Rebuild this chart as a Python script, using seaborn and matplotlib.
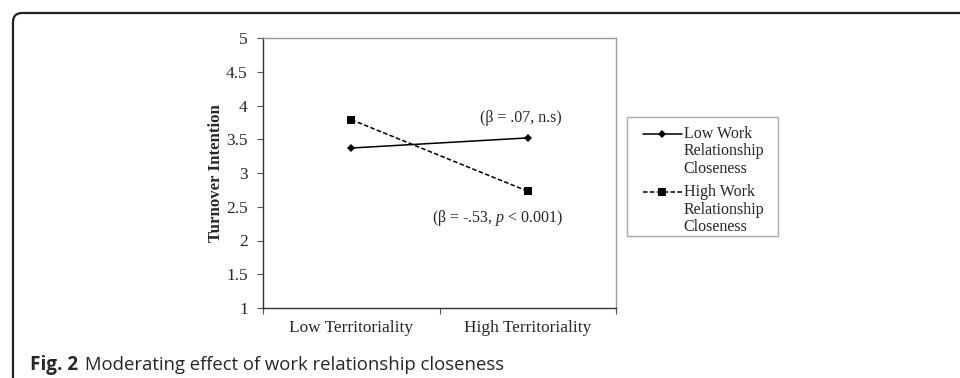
import matplotlib
matplotlib.use("Agg")
import matplotlib.pyplot as plt
from matplotlib.patches import FancyBboxPatch, Rectangle
from matplotlib.transforms import IdentityTransform
from matplotlib.legend_handler import HandlerLine2D
import seaborn as sns
import pandas as pd

# ---- data ----
categories = ["Low Territoriality", "High Territoriality"]
low_closeness = [3.37, 3.52]
high_closeness = [3.79, 2.73]
series_names = ["Low Work\nRelationship\nCloseness", "High Work\nRelationship\nCloseness"]
y_ticks = [1, 1.5, 2, 2.5, 3, 3.5, 4, 4.5, 5]
y_tick_labels = ["1", "1.5", "2", "2.5", "3", "3.5", "4", "4.5", "5"]
annot_low = "(β = .07, n.s)"
annot_high = "(β = -.53, $p$ < 0.001)"
ylabel = "Turnover Intention"
caption_bold = "Fig. 2"
caption_text = "Moderating effect of work relationship closeness"

df = pd.DataFrame({
    "territoriality": categories * 2,
    "value": low_closeness + high_closeness,
    "series": [series_names[0]] * 2 + [series_names[1]] * 2,
})

sns.set_style("white")
plt.rcParams["font.family"] = ["Liberation Serif", "DejaVu Serif"]
plt.rcParams["mathtext.fontset"] = "custom"
plt.rcParams["mathtext.rm"] = "Liberation Serif"
plt.rcParams["mathtext.it"] = "Liberation Serif:italic"

W, H = 960, 378
fig = plt.figure(figsize=(W / 100, H / 100), dpi=100)
ax = fig.add_axes([263 / W, 1 - 308 / H, (616 - 263) / W, (308 - 38) / H])

sns.lineplot(
    data=df, x="territoriality", y="value", hue="series", style="series",
    palette={series_names[0]: "black", series_names[1]: "black"},
    markers={series_names[0]: "D", series_names[1]: "s"},
    dashes={series_names[0]: "", series_names[1]: (3, 1.5)},
    markersize=5.3, linewidth=1.1, markeredgewidth=0,
    sort=False, ax=ax, legend=True,
)
for ln in ax.get_lines():
    if ln.get_marker() == "D":
        ln.set_markersize(4.2)

ax.set_xlim(-0.5, 1.5)
ax.set_ylim(1, 5)
ax.set_yticks(y_ticks)
ax.set_yticklabels(y_tick_labels)
ax.set_xticks([-0.5, 0.5, 1.5])
ax.set_xticklabels([])
ax.set_xticks([0, 1], minor=True)
ax.set_xticklabels(categories, minor=True)
ax.tick_params(axis="x", which="major", direction="out", length=4, width=0.8, color="#555555", bottom=True)
ax.tick_params(axis="x", which="minor", length=0, pad=9, labelsize=12.4)
ax.tick_params(axis="y", direction="out", length=4, width=0.8, color="#555555", left=True, pad=7, labelsize=12.5)
ax.set_xlabel("")
ax.set_ylabel(ylabel, fontsize=12.1, fontweight="bold", va="center")
ax.yaxis.set_label_coords((216 - 263) / (616 - 263), 0.5)

for side in ["left", "bottom"]:
    ax.spines[side].set_color("#333333")
    ax.spines[side].set_linewidth(1.0)
for side in ["top", "right"]:
    ax.spines[side].set_color("#999999")
    ax.spines[side].set_linewidth(1.0)
    ax.spines[side].set_visible(True)

ax.text(0.962, 3.815, annot_low, ha="center", va="center", fontsize=11.5)
ax.text(0.83, 2.333, annot_high, ha="center", va="center", fontsize=11.5)


class TopHandler(HandlerLine2D):
    """Place the legend handle next to the first line of a multi-line label."""
    def __init__(self, shift, **kw):
        super().__init__(**kw)
        self.shift = shift

    def create_artists(self, legend, orig_handle, xdescent, ydescent, width, height, fontsize, trans):
        return super().create_artists(legend, orig_handle, xdescent, ydescent - self.shift,
                                      width, height, fontsize, trans)


handles, labels = ax.get_legend_handles_labels()
ax.get_legend().remove()
leg = fig.legend(
    handles, labels, loc="upper left",
    bbox_to_anchor=(638 / W, 1 - 121 / H), frameon=False, borderaxespad=0,
    fontsize=11.5, handlelength=2.45, handletextpad=0.12,
    labelspacing=0.45, borderpad=0.3,
    handler_map={h: TopHandler(26) for h in handles},
)
for t in leg.get_texts():
    t.set_linespacing(1.13)
fig.add_artist(Rectangle((627, H - 236), 778 - 627, 236 - 117, transform=IdentityTransform(),
                         fill=False, edgecolor="#aaaaaa", linewidth=1.0))

# outer frame (top and left edges with rounded corner)
fig.add_artist(FancyBboxPatch((13, -60), 1100, H - 13 + 60, transform=IdentityTransform(),
                              boxstyle="round,pad=0,rounding_size=9", fill=False,
                              edgecolor="#222222", linewidth=1.6))

fig.text(30 / W, 8 / H, caption_bold, family=["Open Sans", "DejaVu Sans"], fontweight="bold",
         fontsize=13.6, ha="left", va="baseline")
fig.text(85 / W, 8 / H, caption_text, family=["Open Sans", "DejaVu Sans"],
         fontsize=13.3, ha="left", va="baseline")

fig.savefig("out.png", dpi=100)
